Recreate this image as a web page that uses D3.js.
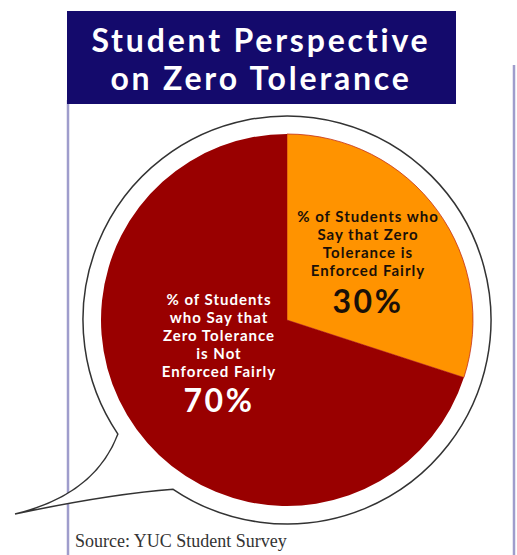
<!DOCTYPE html>
<html>
<head>
<meta charset="utf-8">
<script src="https://cdn.jsdelivr.net/npm/d3@7"></script>
<style>
  body { margin: 0; background: #fff; }
  text { font-family: Lato, "Open Sans", sans-serif; font-weight: 700; }
</style>
</head>
<body>
<div class="chart"></div>
<script>
// Chart data
var categories = ["Enforced Fairly", "Not Enforced Fairly"];
var values = [30, 70];
var sliceLabels = [
  ["% of Students who", "Say that Zero", "Tolerance is", "Enforced Fairly"],
  ["% of Students", "who Say that", "Zero Tolerance", "is Not", "Enforced Fairly"]
];
var titleLines = ["Student Perspective", "on Zero Tolerance"];
var sourceText = "Source: YUC Student Survey";

var svgWidth = 517;
var svgHeight = 555;
var cx = 287, cy = 320;
var radius = 186;
var bubbleR = 204;

var svg = d3.select(".chart")
  .append("svg")
  .attr("width", svgWidth)
  .attr("height", svgHeight);

// frame lines
svg.append("line")
  .attr("x1", 68).attr("x2", 68).attr("y1", 100).attr("y2", svgHeight)
  .attr("stroke", "#9f9dcc").attr("stroke-width", 2.5);
svg.append("line")
  .attr("x1", 514).attr("x2", 514).attr("y1", 65).attr("y2", svgHeight)
  .attr("stroke", "#9f9dcc").attr("stroke-width", 2.5);

// title box
svg.append("rect")
  .attr("x", 67).attr("y", 11).attr("width", 389).attr("height", 93)
  .attr("fill", "#140a6c");
svg.selectAll(".title")
  .data(titleLines)
  .enter().append("text")
  .attr("class", "title")
  .attr("x", 261)
  .attr("y", function(d, i) { return 52 + i * 38; })
  .attr("text-anchor", "middle")
  .attr("fill", "#fff")
  .attr("font-size", "32px")
  .attr("letter-spacing", "2.8px")
  .text(function(d) { return d; });

// speech bubble (circle with a tail pointing down-left)
var a1 = Math.atan2(432 - cy, 121 - cx); // where tail leaves circle
var a2 = Math.atan2(488 - cy, 174 - cx);
var bubble = d3.path();
bubble.moveTo(cx + bubbleR * Math.cos(a2), cy + bubbleR * Math.sin(a2));
bubble.arc(cx, cy, bubbleR, a2, a1 + 2 * Math.PI, true);
bubble.quadraticCurveTo(95, 495, 15, 514);
bubble.quadraticCurveTo(110, 494, cx + bubbleR * Math.cos(a2), cy + bubbleR * Math.sin(a2));
bubble.closePath();
svg.append("path")
  .attr("d", bubble.toString())
  .attr("fill", "#fff")
  .attr("stroke", "#333")
  .attr("stroke-width", 1.5);

// pie
var pie = d3.pie().sort(null).startAngle(0).endAngle(2 * Math.PI);
var arc = d3.arc().innerRadius(0).outerRadius(radius);
var color = d3.scaleOrdinal().domain(categories).range(["#ff9300", "#990000"]);

var chart = svg.append("g")
  .attr("transform", "translate(" + cx + "," + cy + ")");

chart.selectAll("path")
  .data(pie(values))
  .enter().append("path")
  .attr("d", arc)
  .attr("fill", function(d, i) { return color(categories[i]); })
  .attr("stroke", function(d, i) { return i === 0 ? "#c4301a" : "none"; })
  .attr("stroke-width", 0.8);

// labels
var labelPos = [
  { x: 368, y: 222, fill: "#1a1008", big: 313 },
  { x: 219, y: 305, fill: "#fff", big: 412 }
];
values.forEach(function(v, i) {
  var p = labelPos[i];
  var g = svg.append("g");
  g.selectAll("text.line")
    .data(sliceLabels[i])
    .enter().append("text")
    .attr("class", "line")
    .attr("x", p.x)
    .attr("y", function(d, j) { return p.y + j * 18; })
    .attr("text-anchor", "middle")
    .attr("fill", p.fill)
    .attr("font-size", "15px")
    .attr("letter-spacing", "1px")
    .text(function(d) { return d; });
  g.append("text")
    .attr("x", p.x)
    .attr("y", p.big)
    .attr("text-anchor", "middle")
    .attr("fill", p.fill)
    .attr("font-size", "32px")
    .attr("letter-spacing", "2.5px")
    .text(v + "%");
});

// source
svg.append("text")
  .attr("x", 75)
  .attr("y", 547)
  .attr("fill", "#333")
  .attr("font-size", "18px")
  .style("font-family", "'Liberation Serif', 'DejaVu Serif', serif")
  .style("font-weight", 400)
  .text(sourceText);
</script>
</body>
</html>
